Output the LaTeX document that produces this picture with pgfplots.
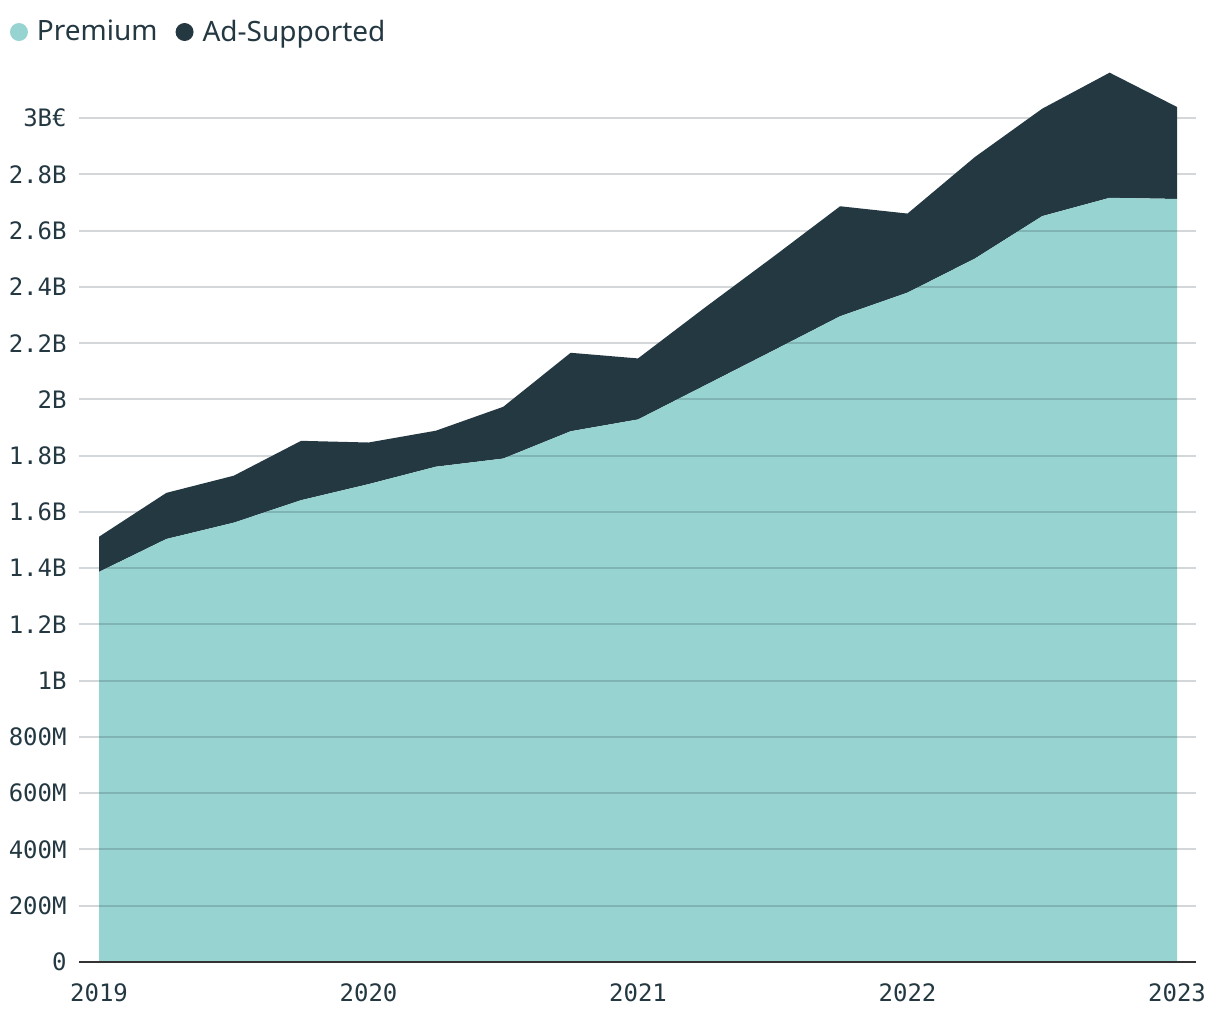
\documentclass[border=0pt]{standalone}
\usepackage{fontspec}
\setmainfont{Noto Sans}
\newfontfamily\tickfont{DejaVu Sans Mono}
\usepackage{pgfplots}
\pgfplotsset{compat=1.18}
\definecolor{prem}{HTML}{97D4D1}
\definecolor{ads}{HTML}{243842}
\definecolor{txt}{HTML}{243842}
\definecolor{axl}{HTML}{333333}
\begin{document}
\begin{tikzpicture}
\useasboundingbox (-39.5pt,-29pt) rectangle (570.5pt,481pt);
\begin{axis}[
  at={(0pt,0pt)}, anchor=south west,
  scale only axis, width=558.5pt, height=450pt,
  xmin=-0.297, xmax=16.282, ymin=0, ymax=3.2,
  stack plots=y,
  axis on top,
  axis x line*=bottom, axis y line*=left,
  x axis line style={draw=axl, line width=1pt, -},
  y axis line style={draw=none},
  major tick length=0pt,
  xtick={0,4,8,12,16},
  xticklabels={2019,2020,2021,2022,2023},
  ytick={0,0.2,0.4,0.6,0.8,1,1.2,1.4,1.6,1.8,2,2.2,2.4,2.6,2.8,3},
  yticklabels={0,200M,400M,600M,800M,1B,1.2B,1.4B,1.6B,1.8B,2B,2.2B,2.4B,2.6B,2.8B,3B€},
  ymajorgrids,
  major grid style={draw=ads, draw opacity=0.2, line width=1pt},
  tick label style={font=\tickfont\fontsize{12}{13}\selectfont, text=txt},
  yticklabel style={anchor=east, inner sep=0pt, xshift=-6pt},
  xticklabel style={anchor=north, inner sep=0pt, yshift=-10.5pt},
  legend columns=-1,
  legend style={at={(-0.0618,1.0333)}, anchor=west, draw=none, fill=none,
    inner sep=0pt, outer sep=0pt, font=\fontsize{14}{16}\selectfont, text=txt,
    cells={anchor=west},
    nodes={inner sep=0pt},
    /tikz/every odd column/.append style={column sep=4.5pt},
    /tikz/every even column/.append style={column sep=9pt}},
  legend image code/.code={\fill[#1] (4.5pt,0pt) circle (4.5pt);},
]
\addplot[fill=prem, draw=none] coordinates {
(0,1.387) (1,1.504) (2,1.562) (3,1.642) (4,1.699) (5,1.761) (6,1.790) (7,1.887)
(8,1.929) (9,2.051) (10,2.173) (11,2.296) (12,2.380) (13,2.501) (14,2.652) (15,2.717) (16,2.713)
} \closedcycle;
\addlegendentry{Premium}
\addplot[fill=ads, draw=none] coordinates {
(0,0.125) (1,0.164) (2,0.167) (3,0.211) (4,0.148) (5,0.128) (6,0.184) (7,0.279)
(8,0.217) (9,0.277) (10,0.333) (11,0.391) (12,0.281) (13,0.361) (14,0.382) (15,0.445) (16,0.327)
} \closedcycle;
\addlegendentry{Ad-Supported}
\end{axis}
\end{tikzpicture}
\end{document}
